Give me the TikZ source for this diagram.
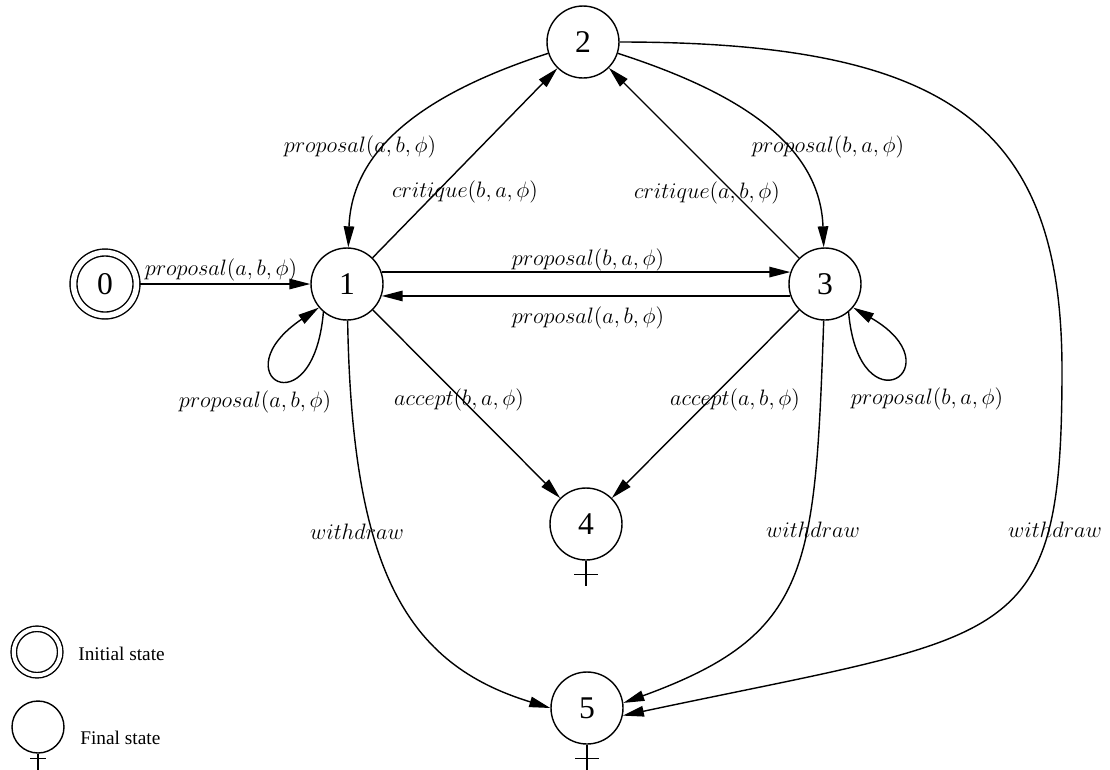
\RequirePackage{fix-cm}
\documentclass[tikz,border=0pt]{standalone}
\usepackage[no-math]{fontspec}
\newfontfamily\statefont{Liberation Serif}
\usetikzlibrary{arrows.meta}

\begin{document}
\begin{tikzpicture}[x=0.02cm, y=0.02cm,
    state/.style={circle, draw, line width=0.8pt, minimum size=1.44cm, inner sep=0pt,
      font=\statefont\fontsize{18}{20}\selectfont},
    initstate/.style={state, double, double distance=0.11cm, minimum size=1.26cm, outer sep=0.08cm},
    lbl/.style={inner sep=0pt, font=\fontsize{12.7}{15}\selectfont},
    legend/.style={anchor=west, inner sep=0pt, font=\statefont\fontsize{11}{13}\selectfont},
    trans/.style={line width=0.8pt, -{Triangle[length=0.42cm,width=0.21cm]}},
    cross/.style={line width=0.8pt}]
  \def\ya{-284}
  \def\yb{-524}
  \def\yc{-708}
  \useasboundingbox (0,0) rectangle (1110,-769);

  % states
  \node[initstate] (s0) at (105,\ya) {0};
  \node[state] (s1) at (347,\ya) {1};
  \node[state] (s2) at (583,-42) {2};
  \node[state] (s3) at (825,\ya) {3};
  \node[state] (s4) at (586,\yb) {4};
  \node[state] (s5) at (587,\yc) {5};
  \foreach \n in {s4,s5}
    \draw[cross] (\n.south) -- ++(0,-25) (\n.south) ++(-12,-14) -- ++(24,0);

  % transitions
  \draw[trans] (s0) -- (s1);
  \draw[trans] (s1.19) -- (s3.161);
  \draw[trans] (s3.199) -- (s1.-19);
  \draw[trans] (s1) -- (s2);
  \draw[trans] (s3) -- (s2);
  \draw[trans] (s1) -- (s4);
  \draw[trans] (s3) -- (s4);
  \draw[trans] (s2) to[out=198,in=88] (s1);
  \draw[trans] (s2) to[out=-18,in=92] (s3);
  \draw[trans] (s1.-130) to[out=-95,in=214,min distance=2.4cm] (s1.-140);
  \draw[trans] (s3.-50) to[out=-85,in=-30,min distance=2.4cm] (s3.-40);
  \draw[trans] (s1) to[out=-89,in=163,out looseness=1.46,in looseness=0.88] (s5.180);
  \draw[trans] (s3) to[out=-92,in=20,out looseness=1.48,in looseness=1.18] (s5.8);
  \coordinate (w25) at (1062,-370);
  \draw[trans] (s2) to[out=0,in=90,out looseness=1.54,in looseness=1.13] (w25)
    to[out=-90,in=12,out looseness=1.28,in looseness=1.83] (s5.-12);

  % labels
  \node[lbl] (l01) at (221,-270) {$proposal(a,b,\phi)$};
  \node[lbl] (l11) at (255,-402) {$proposal(a,b,\phi)$};
  \node[lbl] (l21) at (360,-147) {$proposal(a,b,\phi)$};
  \node[lbl] (l23) at (828,-147) {$proposal(b,a,\phi)$};
  \node[lbl] (l12) at (465,-192) {$critique(b,a,\phi)$};
  \node[lbl] (l32) at (707,-193) {$critique(a,b,\phi)$};
  \node[lbl] (l13) at (588,-260) {$proposal(b,a,\phi)$};
  \node[lbl] (l31) at (588,-318) {$proposal(a,b,\phi)$};
  \node[lbl] (l33) at (927,-399) {$proposal(b,a,\phi)$};
  \node[lbl] (l14) at (459,-400) {$accept(b,a,\phi)$};
  \node[lbl] (l34) at (735,-400) {$accept(a,b,\phi)$};
  \node[lbl] (l15) at (357,-532) {$withdraw$};
  \node[lbl] (l35) at (813,-530) {$withdraw$};
  \node[lbl] (l25) at (1055,-530) {$withdraw$};

  % legend
  \node[initstate, minimum size=0.93cm, double distance=0.08cm] (li) at (37,-652) {};
  \node[legend] (lit) at (78,-654) {Initial state};
  \node[state, minimum size=1.04cm] (lf) at (38,-727) {};
  \draw[cross] (lf.south) -- ++(0,-16) (lf.south) ++(-8,-5) -- ++(16,0);
  \node[legend] (lft) at (80,-738) {Final state};
\end{tikzpicture}
\end{document}
